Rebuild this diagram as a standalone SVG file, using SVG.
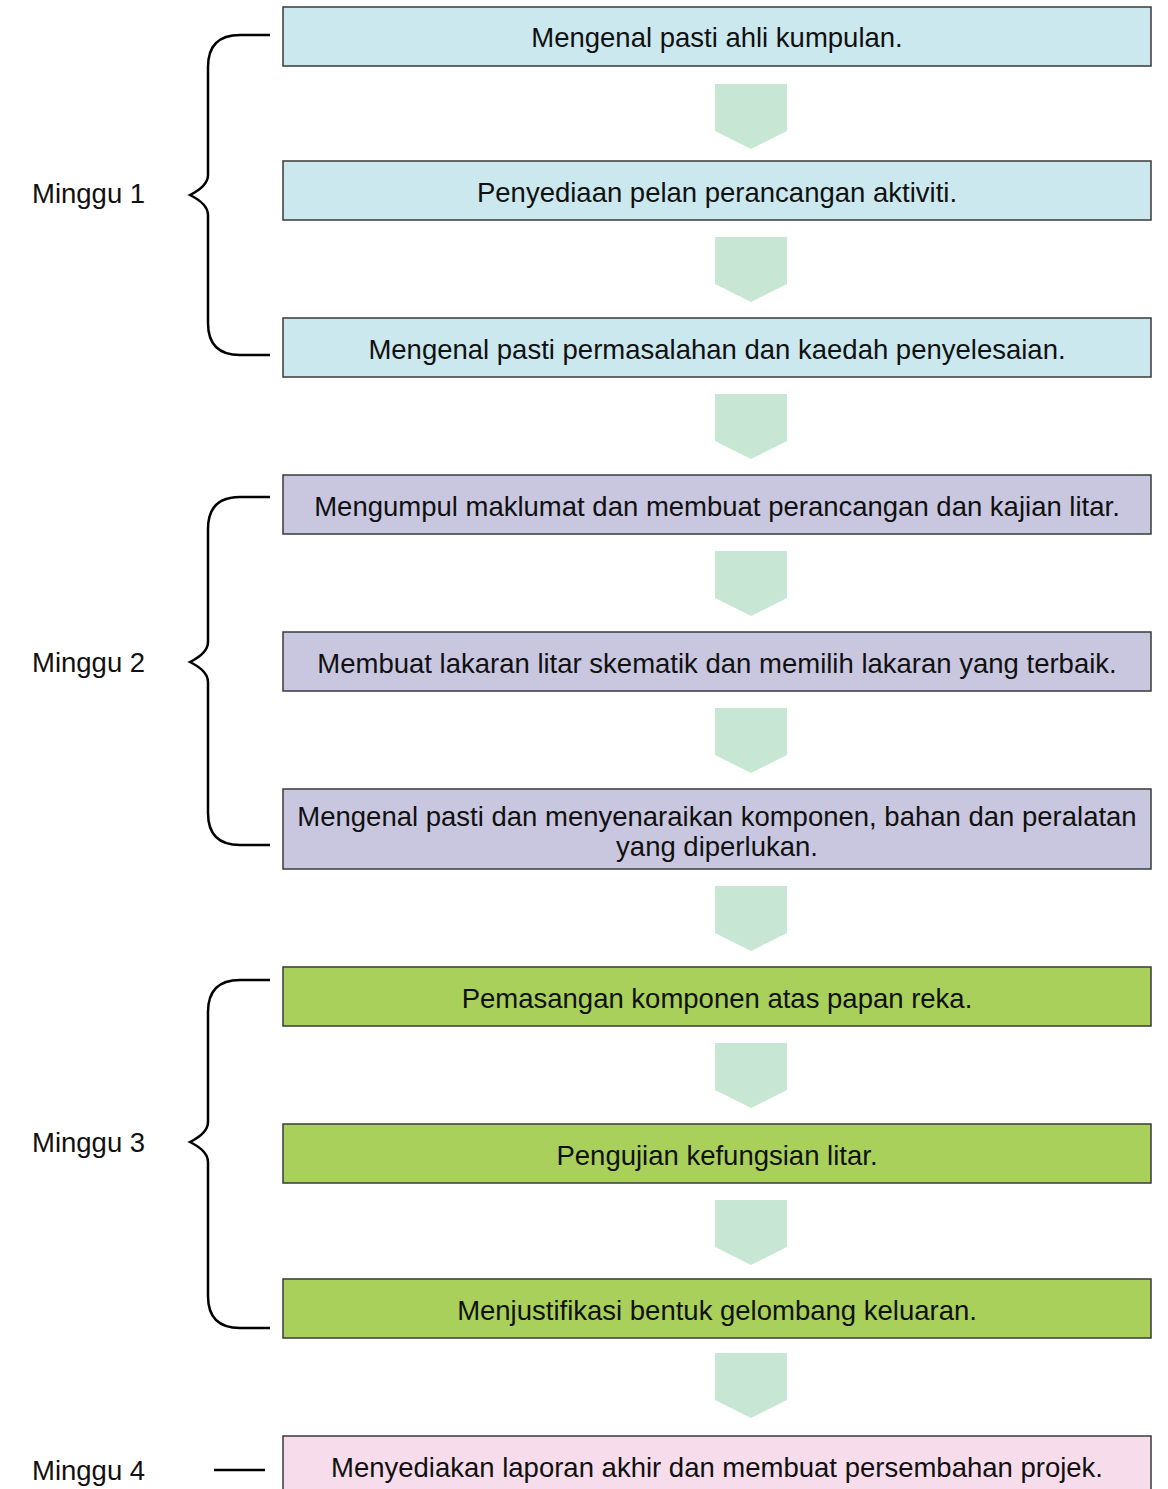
<svg xmlns="http://www.w3.org/2000/svg" width="1168" height="1489" viewBox="0 0 1168 1489">
  <style>
    .box rect { stroke: #3a3a3a; stroke-width: 1.5; }
    .w1 rect { fill: #cae8ee; }
    .w2 rect { fill: #c9c7e0; }
    .w3 rect { fill: #a8d05a; }
    .w4 rect { fill: #f7ddeb; }
    text { font-family: "Liberation Sans", Arial, sans-serif; font-size: 27.5px; fill: #111; }
    .box text { text-anchor: middle; }
    .brace { fill: none; stroke: #000; stroke-width: 2.5; }
    .step { fill: #c8e6d4; }
  </style>
  <defs>
    <polygon id="chev" class="step" points="-36,0 36,0 36,47 0,65 -36,47"/>
  </defs>

  <!-- week labels and braces -->
  <g id="week1">
    <text x="32" y="203">Minggu 1</text>
    <path class="brace" d="M270,35 H240 Q208,35 208,67 V175 Q208,186 190,195 Q208,204 208,215 V323 Q208,355 240,355 H270"/>
  </g>
  <g id="week2">
    <text x="32" y="672">Minggu 2</text>
    <path class="brace" d="M270,497 H240 Q208,497 208,529 V642 Q208,653 190,662 Q208,671 208,682 V813 Q208,845 240,845 H270"/>
  </g>
  <g id="week3">
    <text x="32" y="1152">Minggu 3</text>
    <path class="brace" d="M270,980 H240 Q208,980 208,1012 V1122 Q208,1133 190,1142 Q208,1151 208,1162 V1296 Q208,1328 240,1328 H270"/>
  </g>
  <g id="week4">
    <text x="32" y="1480">Minggu 4</text>
    <path class="brace" d="M214,1470 H265"/>
  </g>

  <!-- step boxes -->
  <g id="n1" class="box w1"><rect x="283" y="7" width="868" height="59"/><text x="717" y="47">Mengenal pasti ahli kumpulan.</text></g>
  <g id="n2" class="box w1"><rect x="283" y="161" width="868" height="59"/><text x="717" y="202">Penyediaan pelan perancangan aktiviti.</text></g>
  <g id="n3" class="box w1"><rect x="283" y="318" width="868" height="59"/><text x="717" y="359">Mengenal pasti permasalahan dan kaedah penyelesaian.</text></g>
  <g id="n4" class="box w2"><rect x="283" y="475" width="868" height="59"/><text x="717" y="516">Mengumpul maklumat dan membuat perancangan dan kajian litar.</text></g>
  <g id="n5" class="box w2"><rect x="283" y="632" width="868" height="59"/><text x="717" y="673">Membuat lakaran litar skematik dan memilih lakaran yang terbaik.</text></g>
  <g id="n6" class="box w2"><rect x="283" y="789" width="868" height="80"/><text x="717" y="826">Mengenal pasti dan menyenaraikan komponen, bahan dan peralatan</text><text x="717" y="856">yang diperlukan.</text></g>
  <g id="n7" class="box w3"><rect x="283" y="967" width="868" height="59"/><text x="717" y="1008">Pemasangan komponen atas papan reka.</text></g>
  <g id="n8" class="box w3"><rect x="283" y="1124" width="868" height="59"/><text x="717" y="1165">Pengujian kefungsian litar.</text></g>
  <g id="n9" class="box w3"><rect x="283" y="1279" width="868" height="59"/><text x="717" y="1320">Menjustifikasi bentuk gelombang keluaran.</text></g>
  <g id="n10" class="box w4"><rect x="283" y="1436" width="868" height="70"/><text x="717" y="1477">Menyediakan laporan akhir dan membuat persembahan projek.</text></g>

  <!-- flow arrows between steps -->
  <g id="connectors">
    <use href="#chev" x="751" y="84"/>
    <use href="#chev" x="751" y="237"/>
    <use href="#chev" x="751" y="394"/>
    <use href="#chev" x="751" y="551"/>
    <use href="#chev" x="751" y="708"/>
    <use href="#chev" x="751" y="886"/>
    <use href="#chev" x="751" y="1043"/>
    <use href="#chev" x="751" y="1200"/>
    <use href="#chev" x="751" y="1353"/>
  </g>
</svg>
